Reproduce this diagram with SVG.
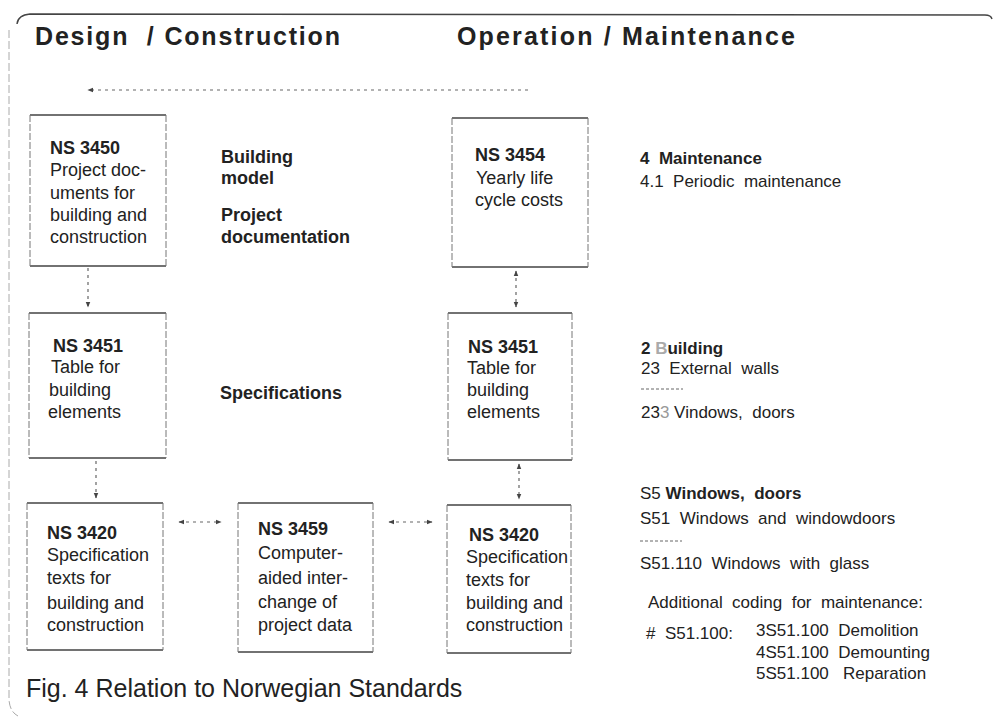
<svg xmlns="http://www.w3.org/2000/svg" width="995" height="721" viewBox="0 0 995 721">
  <style>
    text { font-family: "Liberation Sans", Arial, sans-serif; fill: #222; }
    .title { font-size: 25px; font-weight: bold; }
    .body { font-size: 18px; }
    .b { font-weight: bold; }
    .side { font-size: 17px; }
    .edge-h { fill: none; stroke: #444; stroke-width: 1.3; }
    .edge-v { fill: none; stroke: #777; stroke-width: 1; stroke-dasharray: 7 2; }
    .link { fill: none; stroke: #666; stroke-width: 1.2; stroke-dasharray: 3 4; }
    .frame { fill: none; stroke: #444; stroke-width: 1.4; }
    .frame-side { fill: none; stroke: #aaa; stroke-width: 1; stroke-dasharray: 8 3; }
  </style>
  <defs>
    <marker id="tip" viewBox="0 0 10 10" refX="9" refY="5" markerWidth="6" markerHeight="6" orient="auto-start-reverse" markerUnits="userSpaceOnUse">
      <path d="M0,1 L10,5 L0,9 Z" fill="#444"/>
    </marker>
  </defs>

  <rect width="995" height="721" fill="#fff"/>

  <!-- page frame -->
  <g id="frame">
    <path class="frame" d="M17,24 Q18,15 30,14 L985,15 Q991,15 992,19"/>
    <path class="frame-side" d="M9,30 L9,700 Q10,712 18,716"/>
  </g>

  <!-- column headings -->
  <g id="headings">
    <text class="title" x="35" y="45" textLength="305" lengthAdjust="spacing" xml:space="preserve">Design  / Construction</text>
    <text class="title" x="457" y="45" textLength="338" lengthAdjust="spacing" xml:space="preserve">Operation / Maintenance</text>
  </g>

  <!-- connectors -->
  <g id="connectors">
    <line class="link" x1="528" y1="90" x2="88" y2="90" marker-end="url(#tip)"/>
    <line class="link" x1="88" y1="268" x2="88" y2="307" marker-end="url(#tip)"/>
    <line class="link" x1="96" y1="461" x2="96" y2="498" marker-end="url(#tip)"/>
    <line class="link" x1="516" y1="271" x2="516" y2="307" marker-start="url(#tip)" marker-end="url(#tip)"/>
    <line class="link" x1="519" y1="464" x2="519" y2="499" marker-start="url(#tip)" marker-end="url(#tip)"/>
    <line class="link" x1="179" y1="522" x2="221" y2="522" marker-start="url(#tip)" marker-end="url(#tip)"/>
    <line class="link" x1="389" y1="522" x2="432" y2="522" marker-start="url(#tip)" marker-end="url(#tip)"/>
  </g>

  <!-- NS 3450 -->
  <g id="ns3450">
    <path class="edge-h" d="M30,115 h136 M30,266 h136"/>
    <path class="edge-v" d="M30,115 v151 M166,115 v151"/>
    <text class="body"><tspan class="b" x="50" y="154">NS  3450</tspan><tspan x="50" y="176">Project  doc-</tspan><tspan x="50" y="199">uments for</tspan><tspan x="50" y="221">building and</tspan><tspan x="50" y="243">construction</tspan></text>
  </g>

  <!-- NS 3451 (design) -->
  <g id="ns3451-design">
    <path class="edge-h" d="M29,313 h137 M29,458 h137"/>
    <path class="edge-v" d="M29,313 v145 M166,313 v145"/>
    <text class="body"><tspan class="b" x="53" y="352">NS  3451</tspan><tspan x="51" y="373">Table for</tspan><tspan x="49" y="396">building</tspan><tspan x="48" y="418">elements</tspan></text>
  </g>

  <!-- NS 3420 (design) -->
  <g id="ns3420-design">
    <path class="edge-h" d="M27,503 h136 M27,650 h136"/>
    <path class="edge-v" d="M27,503 v147 M163,503 v147"/>
    <text class="body"><tspan class="b" x="47" y="539">NS  3420</tspan><tspan x="47" y="561">Specification</tspan><tspan x="47" y="584">texts for</tspan><tspan x="47" y="609">building and</tspan><tspan x="47" y="631">construction</tspan></text>
  </g>

  <!-- NS 3459 -->
  <g id="ns3459">
    <path class="edge-h" d="M238,503 h135 M238,652 h135"/>
    <path class="edge-v" d="M238,503 v149 M373,503 v149"/>
    <text class="body"><tspan class="b" x="258" y="535">NS  3459</tspan><tspan x="258" y="559">Computer-</tspan><tspan x="258" y="584">aided  inter-</tspan><tspan x="258" y="608">change  of</tspan><tspan x="258" y="631">project  data</tspan></text>
  </g>

  <!-- NS 3420 (operation) -->
  <g id="ns3420-operation">
    <path class="edge-h" d="M447,505 h124 M447,653 h124"/>
    <path class="edge-v" d="M447,505 v148 M571,505 v148"/>
    <text class="body"><tspan class="b" x="469" y="541">NS  3420</tspan><tspan x="466" y="563">Specification</tspan><tspan x="466" y="586">texts for</tspan><tspan x="466" y="609">building and</tspan><tspan x="466" y="631">construction</tspan></text>
  </g>

  <!-- NS 3454 -->
  <g id="ns3454">
    <path class="edge-h" d="M452,118 h136 M452,267 h136"/>
    <path class="edge-v" d="M452,118 v149 M588,118 v149"/>
    <text class="body"><tspan class="b" x="475" y="161">NS  3454</tspan><tspan x="476" y="184">Yearly  life</tspan><tspan x="475" y="206">cycle  costs</tspan></text>
  </g>

  <!-- NS 3451 (operation) -->
  <g id="ns3451-operation">
    <path class="edge-h" d="M448,313 h124 M448,460 h124"/>
    <path class="edge-v" d="M448,313 v147 M572,313 v147"/>
    <text class="body"><tspan class="b" x="468" y="353">NS  3451</tspan><tspan x="467" y="374">Table for</tspan><tspan x="467" y="396">building</tspan><tspan x="467" y="418">elements</tspan></text>
  </g>

  <!-- middle labels -->
  <g id="layer-labels">
    <text class="body b" x="221" y="163">Building</text>
    <text class="body b" x="221" y="184">model</text>
    <text class="body b" x="221" y="221">Project</text>
    <text class="body b" x="221" y="243">documentation</text>
    <text class="body b" x="220" y="399">Specifications</text>
  </g>

  <!-- maintenance coding -->
  <g id="maintenance-codes">
    <text class="side b" x="640" y="164" xml:space="preserve">4  Maintenance</text>
    <text class="side" x="640" y="187" xml:space="preserve">4.1  Periodic  maintenance</text>
  </g>

  <!-- building element coding -->
  <g id="element-codes">
    <text class="side" x="641" y="354" xml:space="preserve"><tspan class="b">2 </tspan><tspan class="b" fill="#aaa">B</tspan><tspan class="b">uilding</tspan></text>
    <text class="side" x="641" y="374" xml:space="preserve">23  External  walls</text>
    <line x1="641" y1="389" x2="683" y2="389" stroke="#666" stroke-width="1" stroke-dasharray="3 2"/>
    <text class="side" x="641" y="418" xml:space="preserve">23<tspan fill="#999">3</tspan> Vindows,  doors</text>
  </g>

  <!-- specification coding -->
  <g id="spec-codes">
    <text class="side" x="640" y="499" xml:space="preserve">S5 <tspan class="b">Windows,  doors</tspan></text>
    <text class="side" x="640" y="524" xml:space="preserve">S51  Windows  and  windowdoors</text>
    <line x1="640" y1="541" x2="682" y2="541" stroke="#666" stroke-width="1" stroke-dasharray="3 2"/>
    <text class="side" x="640" y="569" xml:space="preserve">S51.110  Windows  with  glass</text>
    <text class="side" x="648" y="608" xml:space="preserve">Additional  coding  for  maintenance:</text>
    <text class="side" x="646" y="639" xml:space="preserve">#  S51.100:</text>
    <text class="side" x="756" y="636" xml:space="preserve">3S51.100  Demolition</text>
    <text class="side" x="756" y="658" xml:space="preserve">4S51.100  Demounting</text>
    <text class="side" x="756" y="679" xml:space="preserve">5S51.100   Reparation</text>
  </g>

  <!-- caption -->
  <g id="caption">
    <text x="26" y="697" style="font-size:25px">Fig. 4 Relation to Norwegian Standards</text>
  </g>
</svg>
